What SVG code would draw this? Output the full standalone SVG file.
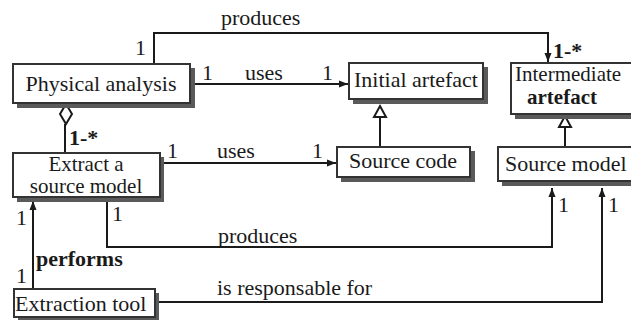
<svg xmlns="http://www.w3.org/2000/svg" width="631" height="320" viewBox="0 0 631 320" font-family="'Liberation Serif', 'DejaVu Serif', serif">
<defs>
<style>
.sh{fill:#5a5a5a}
.bx{fill:#fff;stroke:#333;stroke-width:2}
.t{font-family:'Liberation Serif','DejaVu Serif',serif;font-size:22px;fill:#1a1a1a}
.s{font-size:21px}
.b{font-weight:bold}
.ln{fill:none;stroke:#1a1a1a;stroke-width:2}
</style>
<marker id="arr" markerWidth="10" markerHeight="10" refX="9" refY="5" orient="auto" markerUnits="userSpaceOnUse">
<path d="M0,1.5 L9,5 L0,8.5 Z" fill="#1a1a1a"/>
</marker>
</defs>
<rect width="631" height="320" fill="#fff"/>
<g id="connectors">
<polyline class="ln" points="154,64 154,33 548,33 548,62" marker-end="url(#arr)"/>
<line class="ln" x1="193" y1="84" x2="348" y2="84" marker-end="url(#arr)"/>
<line class="ln" x1="162" y1="163" x2="336" y2="163" marker-end="url(#arr)"/>
<line class="ln" x1="380" y1="117" x2="380" y2="147"/>
<path d="M380,106 L386,117 L374,117 Z" fill="#fff" stroke="#1a1a1a" stroke-width="2"/>
<line class="ln" x1="565" y1="127" x2="565" y2="147"/>
<path d="M565,116 L571,127 L559,127 Z" fill="#fff" stroke="#1a1a1a" stroke-width="2"/>
<line class="ln" x1="65" y1="124" x2="65" y2="153"/>
<path d="M66,104 L72,114 L66,124 L60,114 Z" fill="#fff" stroke="#1a1a1a" stroke-width="2"/>
<polyline class="ln" points="107,199 107,247 552,247 552,188" marker-end="url(#arr)"/>
<line class="ln" x1="33" y1="289" x2="33" y2="201" marker-end="url(#arr)"/>
<polyline class="ln" points="157,302 602,302 602,188" marker-end="url(#arr)"/>
<text class="t" x="221" y="25">produces</text>
<text class="t" x="135" y="55">1</text>
<text class="t" x="202" y="80">1</text>
<text class="t" x="245" y="80">uses</text>
<text class="t" x="322" y="80">1</text>
<text class="t b" x="553" y="58">1-*</text>
<text class="t b" x="69" y="145">1-*</text>
<text class="t" x="167" y="158">1</text>
<text class="t" x="217" y="158">uses</text>
<text class="t" x="312" y="158">1</text>
<text class="t" x="112" y="221">1</text>
<text class="t" x="218" y="243">produces</text>
<text class="t" x="558" y="212">1</text>
<text class="t" x="16" y="225">1</text>
<text class="t" x="16" y="283">1</text>
<text class="t b" x="36" y="266">performs</text>
<text class="t" x="217" y="295">is responsable for</text>
<text class="t" x="608" y="212">1</text>
</g>
<g id="physical-analysis">
<rect class="sh" x="17" y="68" width="178" height="40"/>
<rect class="bx" x="13" y="64" width="177" height="39"/>
<text class="t" x="101" y="91" text-anchor="middle">Physical analysis</text>
</g>
<g id="initial-artefact">
<rect class="sh" x="353" y="67" width="135" height="37"/>
<rect class="bx" x="349" y="63" width="134" height="36"/>
<text class="t" x="416" y="87" text-anchor="middle">Initial artefact</text>
</g>
<g id="intermediate-artefact">
<rect class="sh" x="515" y="67" width="130" height="52"/>
<rect class="bx" x="511" y="63" width="130" height="51"/>
<text class="t s" x="515" y="81">Intermediate</text>
<text class="t s b" x="527" y="104">artefact</text>
</g>
<g id="extract-source-model">
<rect class="sh" x="17" y="157" width="147" height="45"/>
<rect class="bx" x="13" y="153" width="147" height="44"/>
<text class="t s" x="86" y="171" text-anchor="middle">Extract a</text>
<text class="t s" x="86" y="193" text-anchor="middle">source model</text>
</g>
<g id="source-code">
<rect class="sh" x="341" y="151" width="134" height="31"/>
<rect class="bx" x="337" y="147" width="133" height="30"/>
<text class="t" x="403" y="168" text-anchor="middle">Source code</text>
</g>
<g id="source-model">
<rect class="sh" x="502" y="151" width="140" height="35"/>
<rect class="bx" x="498" y="147" width="140" height="34"/>
<text class="t" x="505" y="171">Source model</text>
</g>
<g id="extraction-tool">
<rect class="sh" x="18" y="293" width="141" height="30"/>
<rect class="bx" x="14" y="289" width="141" height="28"/>
<text class="t" x="15" y="311">Extraction tool</text>
</g>
</svg>
